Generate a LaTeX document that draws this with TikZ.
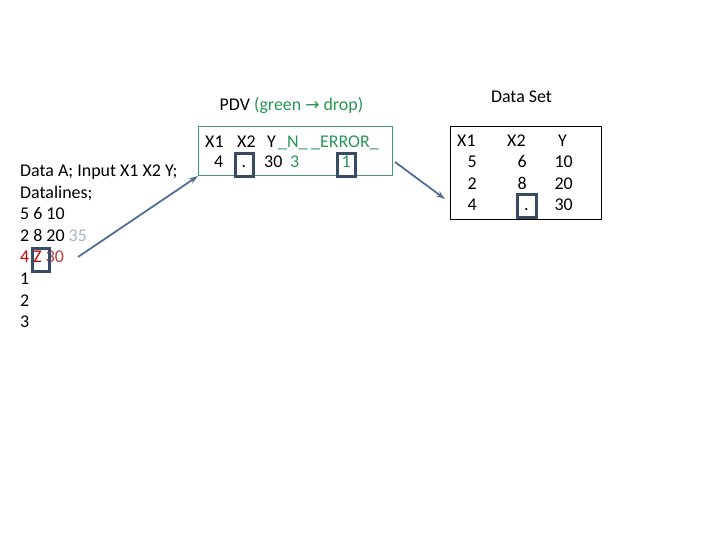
\documentclass[tikz,border=0pt]{standalone}
\usepackage{fontspec}
\setmainfont{Carlito}
\newfontfamily\symfont{DejaVu Sans}
\usepackage{xcolor}
\usepackage{tikz}
\usetikzlibrary{arrows.meta,positioning,calc}
\definecolor{pdvgreen}{RGB}{40,150,85}
\definecolor{boxgreen}{RGB}{70,150,110}
\definecolor{arrblue}{RGB}{80,110,150}
\definecolor{markblue}{RGB}{55,75,100}
\definecolor{badred}{RGB}{192,0,0}
\definecolor{softred}{RGB}{185,60,60}
\definecolor{paleblue}{RGB}{165,180,195}
\begin{document}
\begin{tikzpicture}[
  x=1bp, y=-1bp,
  txt/.style={anchor=base west, inner sep=0pt, font=\fontsize{18}{21.5}\selectfont},
  num/.style={txt, anchor=base east},
  markbox/.style={draw=markblue, line width=2.6bp, anchor=north west, inner sep=0pt},
  arr/.style={-{Stealth[length=9bp,width=6bp]}, draw=arrblue, line width=1.8bp}
]
\useasboundingbox (0,0) rectangle (720,540);
\node[txt] (l1) at (20,177) {Data A; Input X1 X2 Y;};
\node[txt] (l2) at (20,198.5) {Datalines;};
\node[txt] (l3) at (20,220) {5 6 10};
\node[txt] (l4) at (20,241.5) {2 8 20 \textcolor{paleblue}{35}};
\node[txt] (l5) at (20,263) {\textcolor{badred}{4 Z} \textcolor{softred}{30}};
\node[txt] (l6) at (20,284.5) {1};
\node[txt] (l7) at (20,306) {2};
\node[txt] (l8) at (20,327.5) {3};
\node[markbox, minimum width=17bp, minimum height=23bp] (zbox) at (31,247) {};
\node[txt, anchor=base] (pdvtitle) at (291.5,111) {PDV \textcolor{pdvgreen}{(green {\symfont\fontsize{17}{17}\selectfont →} drop)}};
\node[draw=boxgreen, line width=1bp, minimum width=194bp, minimum height=49bp, anchor=north west, inner sep=0pt] (pdv) at (198,126) {};
\node[txt] (px1) at (205,147.5) {X1};
\node[txt] (px2) at (237,147.5) {X2};
\node[txt] (py) at (267,147.5) {Y};
\node[txt, text=pdvgreen] (pn) at (278,147.5) {\_N\_};
\node[txt, text=pdvgreen] (perr) at (311,147.5) {\_ERROR\_};
\node[txt] (vx1) at (214,167.5) {4};
\node[txt] (vx2) at (241.5,167.5) {.};
\node[txt] (vy) at (264,167.5) {30};
\node[txt, text=pdvgreen] (vn) at (290,167.5) {3};
\node[txt, text=pdvgreen] (verr) at (341.5,167.5) {1};
\node[markbox, minimum width=18bp, minimum height=23bp] (dotbox) at (234,152) {};
\node[markbox, minimum width=18bp, minimum height=23bp] (errbox) at (336,152) {};
\node[txt, anchor=base] (settitle) at (521.5,103) {Data Set};
\node[draw=black, line width=1bp, minimum width=151bp, minimum height=93bp, anchor=north west, inner sep=0pt] (dataset) at (450,126) {};
\node[txt] (sx1) at (457,147) {X1};
\node[txt] (sx2) at (507,147) {X2};
\node[txt] (sy) at (558,147) {Y};
\node[num] (a1) at (477,168) {5};
\node[num] (a2) at (527,168) {6};
\node[num] (a3) at (573,168) {10};
\node[num] (b1) at (477,189.5) {2};
\node[num] (b2) at (527,189.5) {8};
\node[num] (b3) at (573,189.5) {20};
\node[num] (c1) at (477,211) {4};
\node[txt] (c2) at (524,211) {.};
\node[num] (c3) at (573,211) {30};
\node[markbox, minimum width=19bp, minimum height=23bp] (setbox) at (516,193) {};
\coordinate (zend) at (78,257);
\coordinate (pdvout) at (395,162);
\coordinate (setin) at (445,199);
\draw[arr] (zend) -- (pdv.south west);
\draw[arr] (pdvout) -- (setin);
\end{tikzpicture}
\end{document}
